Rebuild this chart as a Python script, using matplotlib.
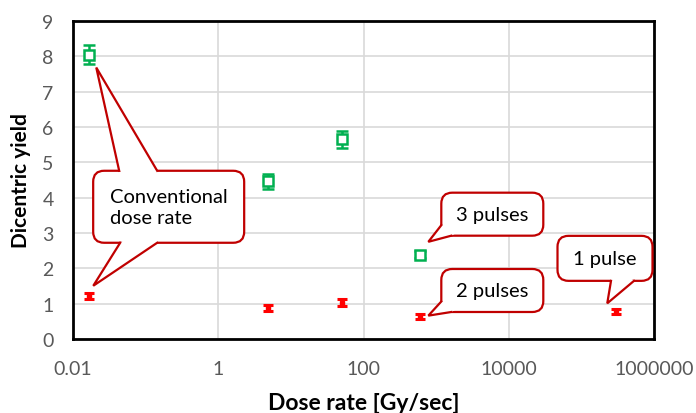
import numpy as np
import matplotlib
matplotlib.use("Agg")
import matplotlib.pyplot as plt
from matplotlib.patches import FancyBboxPatch, Polygon
from matplotlib.lines import Line2D
from matplotlib.transforms import IdentityTransform

plt.rcParams['font.family'] = ['Lato', 'DejaVu Sans']

# dicentric yield vs dose rate
dose_rate = [0.0167, 4.85, 50.7, 603]
yield_green = [8.05, 4.46, 5.65, 2.38]
err_green = [0.27, 0.21, 0.24, 0.10]

dose_rate_red = [0.0167, 4.85, 50.7, 603, 3.0e5]
yield_red = [1.22, 0.88, 1.03, 0.63, 0.78]
err_red = [0.09, 0.08, 0.09, 0.07, 0.07]

x_ticks = [0.01, 1, 100, 10000, 1000000]
x_tick_labels = ['0.01', '1', '100', '10000', '1000000']
y_ticks = list(range(0, 10))

GREEN = '#00B050'
RED = '#FF0000'
DARK_RED = '#C00000'
GRID = '#D9D9D9'
TICK_GREY = '#595959'

fig = plt.figure(figsize=(6.96, 4.14), dpi=100)
ax = fig.add_axes([0.105, 0.179, 0.835, 0.768])

ax.errorbar(dose_rate, yield_green, yerr=err_green, fmt='s', ms=6.5,
            mfc='white', mec=GREEN, mew=1.8, ecolor=GREEN, elinewidth=1.8,
            capsize=4, capthick=1.8, zorder=3)
ax.errorbar(dose_rate_red, yield_red, yerr=err_red, fmt='s', ms=3,
            mfc=RED, mec=RED, ecolor=RED, elinewidth=2.2,
            capsize=3.5, capthick=2.2, zorder=3)

ax.set_xscale('log')
ax.set_xlim(0.01, 1e6)
ax.set_ylim(0, 9)
ax.set_xticks(x_ticks)
ax.set_xticklabels(x_tick_labels)
ax.minorticks_off()
ax.set_yticks(y_ticks)
ax.tick_params(length=0, labelsize=14, labelcolor=TICK_GREY)
ax.tick_params(axis='y', pad=14)
ax.tick_params(axis='x', pad=15)
ax.grid(True, color=GRID, lw=1.2)
ax.set_axisbelow(True)
for sp in ax.spines.values():
    sp.set_linewidth(2)
    sp.set_color('black')

ax.set_xlabel('Dose rate [Gy/sec]', fontsize=16.5, fontweight='bold', labelpad=11)
ax.set_ylabel('Dicentric yield', fontsize=15, fontweight='bold', labelpad=8)

H = fig.bbox.height


def callout(text, center, size, wedges, ha='center'):
    """Rounded speech box; wedges are (base1, base2, tip_xy, tip_offset) in px,
    bases relative to the box centre, y measured upward."""
    cx, cy = ax.transData.transform(center)
    w, h = size
    box = FancyBboxPatch((cx - w / 2, cy - h / 2), w, h,
                         boxstyle='round,pad=0,rounding_size=11',
                         transform=IdentityTransform(), fc='white',
                         ec=DARK_RED, lw=1.6, zorder=5, clip_on=False)
    ax.add_artist(box)
    for b1, b2, tip_xy, off in wedges:
        tx, ty = ax.transData.transform(tip_xy)
        tip = (tx + off[0], ty + off[1])
        p1 = (cx + b1[0], cy + b1[1])
        p2 = (cx + b2[0], cy + b2[1])
        inner = [(cx + 0.8 * b2[0], cy + 0.8 * b2[1]),
                 (cx + 0.8 * b1[0], cy + 0.8 * b1[1])]
        fill = Polygon([p1, tip, p2] + inner, closed=True,
                       transform=IdentityTransform(), fc='white', ec='none',
                       zorder=6, clip_on=False)
        ax.add_artist(fill)
        ln = Line2D([p1[0], tip[0], p2[0]], [p1[1], tip[1], p2[1]],
                    transform=IdentityTransform(), color=DARK_RED, lw=1.6,
                    solid_joinstyle='miter', zorder=6, clip_on=False)
        ax.add_artist(ln)
    if ha == 'left':
        ax.text(cx - w / 2 + 17, cy, text, transform=IdentityTransform(),
                ha='left', va='center', fontsize=14.5, linespacing=1.3,
                zorder=7)
    else:
        ax.text(cx, cy, text, transform=IdentityTransform(), ha='center',
                va='center', fontsize=14.5, zorder=7)


callout('Conventional\ndose rate', (0.207, 3.74), (151, 72),
        [((-49.5, 36), (-11.5, 36), (dose_rate[0], yield_green[0]), (7, -13)),
         ((-48.5, -36), (-11.5, -36), (dose_rate_red[0], yield_red[0]), (4, 10))],
        ha='left')
callout('3 pulses', (5900, 3.53), (102, 43),
        [((-51, -11), (-41, -21.5), (dose_rate[3], yield_green[3]), (8, 13))])
callout('2 pulses', (5900, 1.37), (102, 43),
        [((-51, -11), (-41, -21.5), (dose_rate_red[3], yield_red[3]), (8, 1))])
callout('1 pulse', (2.1e5, 2.28), (95, 45),
        [((6, -22.5), (29, -22.5), (dose_rate_red[4], yield_red[4]), (-9, 8))])

fig.savefig('out.png', dpi=100)
